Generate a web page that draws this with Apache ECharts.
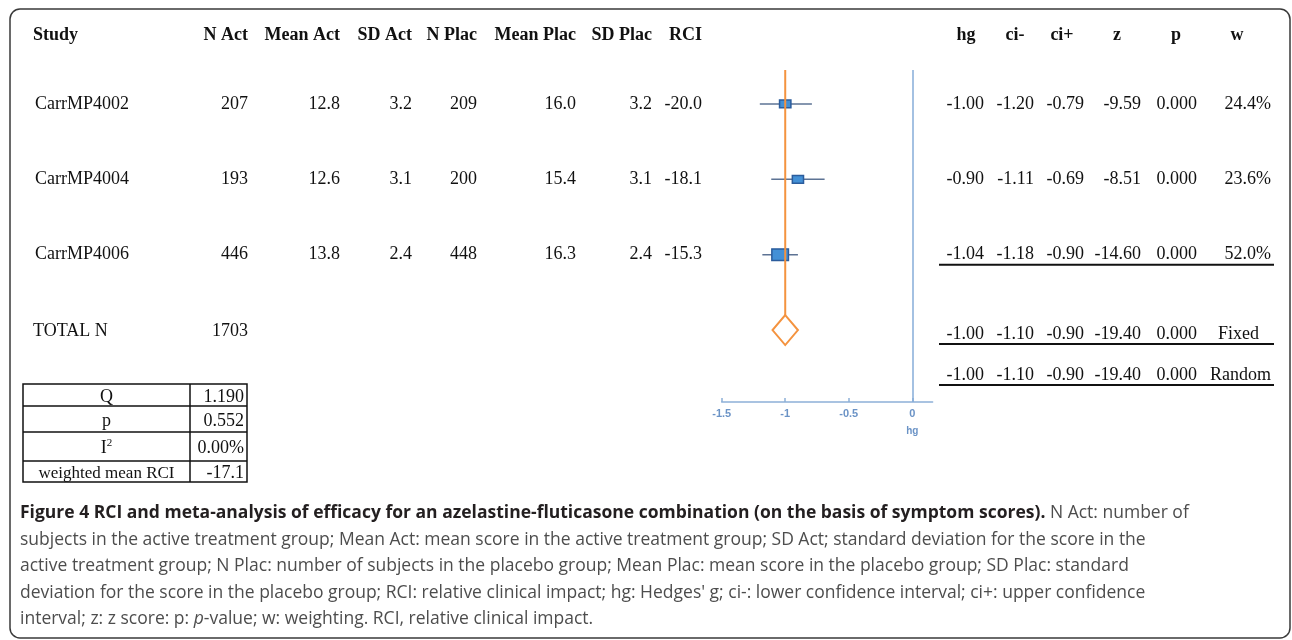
<!DOCTYPE html>
<html>
<head>
<meta charset="utf-8">
<script src="https://cdn.jsdelivr.net/npm/echarts@6/dist/echarts.min.js"></script>
<style>html,body{margin:0;padding:0;background:#fff}#c{width:1292px;height:640px}</style>
</head>
<body>
<div id="c"></div>
<script>
// ---- data ----
const studies = ['CarrMP4002', 'CarrMP4004', 'CarrMP4006'];
const nAct = [207, 193, 446];
const meanAct = [12.8, 12.6, 13.8];
const sdAct = [3.2, 3.1, 2.4];
const nPlac = [209, 200, 448];
const meanPlac = [16.0, 15.4, 16.3];
const sdPlac = [3.2, 3.1, 2.4];
const rci = [-20.0, -18.1, -15.3];
const hg = [-1.00, -0.90, -1.04];
const ciLow = [-1.20, -1.11, -1.18];
const ciHigh = [-0.79, -0.69, -0.90];
const zScore = [-9.59, -8.51, -14.60];
const pValue = [0.000, 0.000, 0.000];
const weight = [24.4, 23.6, 52.0];
const totalN = 1703;
const pooledLabels = ['Fixed', 'Random'];
const pooledHg = [-1.00, -1.00];
const pooledLow = [-1.10, -1.10];
const pooledHigh = [-0.90, -0.90];
const pooledZ = [-19.40, -19.40];
const pooledP = [0.000, 0.000];
const hetLabels = ['Q', 'p', 'I2', 'weighted mean RCI'];
const hetValues = ['1.190', '0.552', '0.00%', '-17.1'];
const leftHeaders = ['Study', 'N Act', 'Mean Act', 'SD Act', 'N Plac', 'Mean Plac', 'SD Plac', 'RCI'];
const rightHeaders = ['hg', 'ci-', 'ci+', 'z', 'p', 'w'];
const xTicks = [-1.5, -1, -0.5, 0];

// ---- layout / style ----
const SERIF = '"Liberation Serif","Times New Roman",serif';
const SANS = '"Open Sans","Noto Sans",sans-serif';
const leftColRight = [null, 248, 340, 412, 477, 576, 652, 702];
const rightColRight = [984, 1034, 1084, 1141, 1197, 1271];
const rightHeadCenter = [966, 1015, 1062, 1117, 1176, 1237];

const chart = echarts.init(document.getElementById('c'), null, {renderer: 'canvas'});

const studyData = hg.map((v, i) => [v, ciLow[i], ciHigh[i], weight[i], i]);
const pooledData = [[pooledHg[0], pooledLow[0], pooledHigh[0], 3]];
const Y_MIN = -0.45, Y_MAX = 3.955;

chart.setOption({
  animation: false,
  grid: {left: 721.7, top: 70, width: 210.9, height: 332, containLabel: false},
  xAxis: {
    type: 'value', min: -1.5, max: 0.16,
    axisLine: {show: true, onZero: false, lineStyle: {color: '#8db0d8', width: 1.5}},
    axisTick: {show: true, inside: true, length: 4, customValues: xTicks, lineStyle: {color: '#8db0d8', width: 1.5}},
    axisLabel: {customValues: xTicks, color: '#6b93c6', fontSize: 11, fontWeight: 'bold', fontFamily: '"Liberation Sans",sans-serif', margin: 6,
      formatter: v => String(v)},
    splitLine: {show: false}
  },
  yAxis: {
    type: 'value', min: Y_MIN, max: Y_MAX, inverse: true, show: false,
    splitLine: {show: false}
  },
  series: [
    {
      type: 'custom', name: 'studies', clip: false, data: studyData,
      renderItem: (params, api) => {
        const v = api.value(0), lo = api.value(1), hi = api.value(2), w = api.value(3), row = api.value(4);
        const c = api.coord([v, row]);
        const a = api.coord([lo, row]);
        const b = api.coord([hi, row]);
        const bw = 23 * Math.sqrt(w / 100);
        const bh = 16 * Math.sqrt(w / 100);
        return {type: 'group', children: [
          {type: 'line', shape: {x1: a[0], y1: a[1], x2: b[0], y2: b[1]}, style: {stroke: '#5d7394', lineWidth: 1.5}},
          {type: 'rect', shape: {x: c[0] - bw / 2, y: c[1] - bh / 2, width: bw, height: bh}, style: {fill: '#4390d6', stroke: '#2b5c9c', lineWidth: 1.5}}
        ]};
      },
      markLine: {silent: true, symbol: 'none', label: {show: false}, animation: false,
        lineStyle: {color: '#86acd9', width: 1.5, type: 'solid'}, data: [{xAxis: 0}]}
    },
    {
      type: 'custom', name: 'pooled', clip: false, data: pooledData,
      renderItem: (params, api) => {
        const v = api.value(0), lo = api.value(1), hi = api.value(2), row = api.value(3);
        const c = api.coord([v, row]);
        const a = api.coord([lo, row]);
        const b = api.coord([hi, row]);
        const top = api.coord([v, Y_MIN]);
        const hh = 15;
        return {type: 'group', children: [
          {type: 'line', shape: {x1: top[0], y1: top[1], x2: c[0], y2: c[1] - hh}, style: {stroke: '#f4933f', lineWidth: 2}},
          {type: 'polygon', shape: {points: [[c[0], c[1] - hh], [b[0], c[1]], [c[0], c[1] + hh], [a[0], c[1]]]},
            style: {fill: 'none', stroke: '#f4933f', lineWidth: 2}}
        ]};
      }
    }
  ]
});

function rowY(i) { return chart.convertToPixel({gridIndex: 0}, [0, i])[1]; }

const els = [];
const txt = (x, y, s, o) => els.push({type: 'text', x: x, y: y, silent: true,
  style: Object.assign({text: s, font: '18px ' + SERIF, fill: '#111', align: 'left', verticalAlign: 'middle'}, o || {})});
const hline = (x1, x2, y, lw) => els.push({type: 'line', silent: true, shape: {x1: x1, y1: y, x2: x2, y2: y}, style: {stroke: '#111', lineWidth: lw || 2}});
const vline = (x, y1, y2, lw) => els.push({type: 'line', silent: true, shape: {x1: x, y1: y1, x2: x, y2: y2}, style: {stroke: '#111', lineWidth: lw || 1.5}});

// frame
els.push({type: 'rect', silent: true, shape: {x: 10, y: 9, width: 1280, height: 629, r: 10},
  style: {fill: 'none', stroke: '#3a3a3a', lineWidth: 1.5}});

// headers
const HY = 35;
txt(33, HY, leftHeaders[0], {font: 'bold 18px ' + SERIF});
for (let k = 1; k < leftHeaders.length; k++) txt(leftColRight[k], HY, leftHeaders[k], {font: 'bold 18px ' + SERIF, align: 'right'});
rightHeaders.forEach((h, k) => txt(rightHeadCenter[k], HY, h, {font: 'bold 18px ' + SERIF, align: 'center'}));

// study rows
studies.forEach((s, i) => {
  const y = rowY(i);
  txt(35, y, s);
  const vals = [String(nAct[i]), meanAct[i].toFixed(1), sdAct[i].toFixed(1), String(nPlac[i]), meanPlac[i].toFixed(1), sdPlac[i].toFixed(1), rci[i].toFixed(1)];
  vals.forEach((v, k) => txt(leftColRight[k + 1], y, v, {align: 'right'}));
  const rv = [hg[i].toFixed(2), ciLow[i].toFixed(2), ciHigh[i].toFixed(2), zScore[i].toFixed(2), pValue[i].toFixed(3), weight[i].toFixed(1) + '%'];
  rv.forEach((v, k) => txt(rightColRight[k], y, v, {align: 'right'}));
});
hline(939, 1274, rowY(2) + 10);

// total + pooled rows
const ty = rowY(3);
txt(33, ty + 1, 'TOTAL N');
txt(leftColRight[1], ty + 1, String(totalN), {align: 'right'});
const pooledYs = [ty + 4, ty + 45];
pooledLabels.forEach((lab, j) => {
  const y = pooledYs[j];
  const rv = [pooledHg[j].toFixed(2), pooledLow[j].toFixed(2), pooledHigh[j].toFixed(2), pooledZ[j].toFixed(2), pooledP[j].toFixed(3)];
  rv.forEach((v, k) => txt(rightColRight[k], y, v, {align: 'right'}));
  txt(rightColRight[5] - (lab === 'Fixed' ? 12 : 0), y, lab, {align: 'right'});
  hline(939, 1274, y + 10);
});

// axis name
txt(chart.convertToPixel({gridIndex: 0}, [0, 0])[0], 431, 'hg', {font: 'bold 10px "Liberation Sans",sans-serif', fill: '#6b93c6', align: 'center'});

// heterogeneity table
const tL = 23, tM = 190, tR = 247;
const tLines = [384, 406, 432, 461, 482];
els.push({type: 'rect', silent: true, shape: {x: tL, y: tLines[0], width: tR - tL, height: tLines[4] - tLines[0]},
  style: {fill: 'none', stroke: '#111', lineWidth: 1.5}});
for (let k = 1; k < 4; k++) hline(tL, tR, tLines[k], 1.5);
vline(tM, tLines[0], tLines[4]);
hetLabels.forEach((lab, k) => {
  const y = (tLines[k] + tLines[k + 1]) / 2 + 2;
  if (lab === 'I2') {
    txt((tL + tM) / 2, y, '{a|I}{s|2}', {align: 'center', rich: {a: {font: '18px ' + SERIF, fill: '#111'}, s: {font: '11px ' + SERIF, fill: '#111', verticalAlign: 'top', padding: [0, 0, 10, 0]}}});
  } else {
    txt((tL + tM) / 2, y, lab, {align: 'center', font: (k === 3 ? '17px ' : '18px ') + SERIF});
  }
  txt(tR - 3, y, hetValues[k], {align: 'right', font: '18px ' + SERIF});
});

// caption
const capLines = [
  '{b|Figure 4 RCI and meta-analysis of efficacy for an azelastine-fluticasone combination (on the basis of symptom scores).}{n| N Act: number of}',
  '{n|subjects in the active treatment group; Mean Act: mean score in the active treatment group; SD Act; standard deviation for the score in the}',
  '{n|active treatment group; N Plac: number of subjects in the placebo group; Mean Plac: mean score in the placebo group; SD Plac: standard}',
  "{n|deviation for the score in the placebo group; RCI: relative clinical impact; hg: Hedges' g; ci-: lower confidence interval; ci+: upper confidence}",
  '{n|interval; z: z score: p: }{i|p}{n|-value; w: weighting. RCI, relative clinical impact.}'
];
const capRich = {
  b: {fontFamily: SANS, fontSize: 17.5, fontWeight: 'bold', fill: '#231f20'},
  n: {fontFamily: SANS, fontSize: 17.5, fill: '#4d4d4d'},
  i: {fontFamily: SANS, fontSize: 17.5, fontStyle: 'italic', fill: '#4d4d4d'}
};
capLines.forEach((l, k) => txt(20, 513.5 + k * 26.5, l, {rich: capRich}));

chart.setOption({graphic: {elements: els}});
</script>
</body>
</html>
